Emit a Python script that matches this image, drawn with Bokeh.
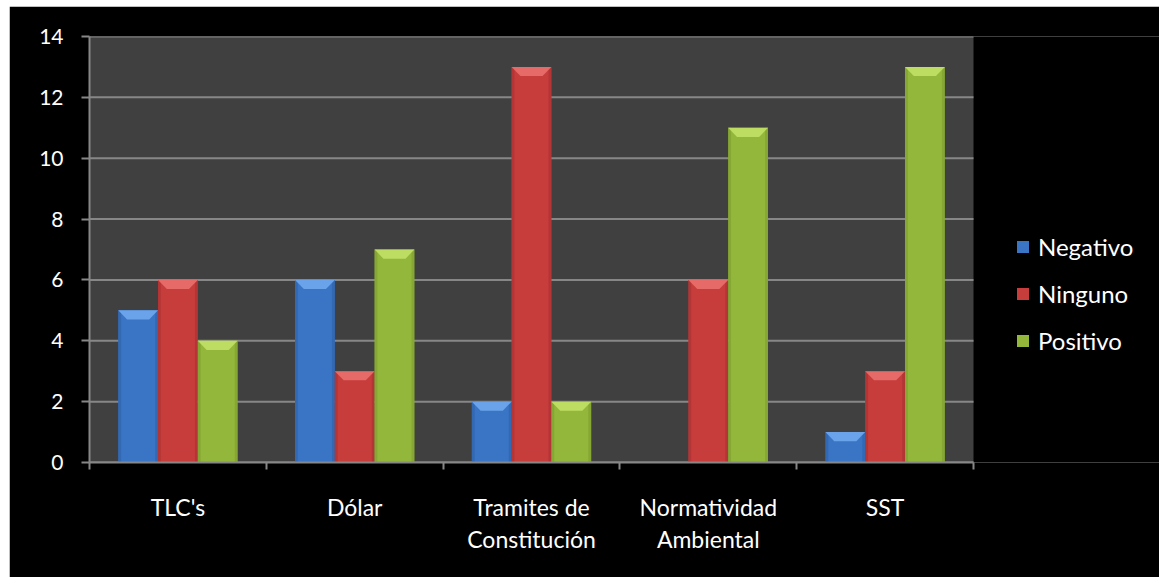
from bokeh.plotting import figure
from bokeh.models import Range1d, FixedTicker, Legend, LegendItem, BoxAnnotation
from bokeh.embed import file_html
from bokeh.resources import INLINE

# Survey data: effect of each factor on companies
categories = ["TLC's", "Dólar", "Tramites de\nConstitución", "Normatividad\nAmbiental", "SST"]
negativo = [5, 6, 2, 0, 1]
ninguno = [6, 3, 13, 6, 3]
positivo = [4, 7, 2, 11, 13]
y_ticks = [0, 2, 4, 6, 8, 10, 12, 14]

series = [
    ("Negativo", negativo, "#3a74c4", "#6aa3ea", "#2f62a8"),
    ("Ninguno", ninguno, "#c63d3c", "#e56a68", "#a83130"),
    ("Positivo", positivo, "#93b73a", "#bcdc62", "#7d9d2e"),
]

FONT = "Lato"
GRID = "#878787"
bar_w = 0.225
bevel_h = 0.30      # height of the bevelled cap, in value units
bevel_in = 0.05     # horizontal inset of the bevel, in category units

# The frame runs to the right edge; the grey plot area covers the categories
# only, and the legend sits in the remaining black strip.
FIG_W, FIG_H = 1150, 571
LEFT, TOP, BOTTOM = 80, 30, 115
AREA_W = 884                       # pixel width of the category area
n = len(categories)
frame_w = FIG_W - LEFT
x_end = n * frame_w / AREA_W

p = figure(width=FIG_W, height=FIG_H, x_range=Range1d(0, x_end), y_range=Range1d(0, 14),
           output_backend="svg", toolbar_location=None,
           background_fill_color="black", border_fill_color="black",
           outline_line_color=None,
           min_border_left=LEFT, min_border_top=TOP, min_border_right=0, min_border_bottom=BOTTOM,
           margin=(6, 0, 0, 9))

p.add_layout(BoxAnnotation(left=0, right=n, bottom=0, top=14, fill_color="#404040",
                           fill_alpha=1, line_color=None, level="underlay"))
p.xgrid.grid_line_color = None
p.ygrid.grid_line_color = None
p.segment(x0=[0] * len(y_ticks), x1=[n] * len(y_ticks), y0=y_ticks, y1=y_ticks,
          line_color=GRID, line_width=2)

legend_items = []
for k, (name, vals, main, light, dark) in enumerate(series):
    offset = (k - 1) * bar_w
    xs = [i + 0.5 + offset for i in range(n)]
    r = p.vbar(x=xs, top=vals, bottom=0, width=bar_w, fill_color=main, line_color=None)
    legend_items.append(LegendItem(label=name, renderers=[r]))
    # darker side edges
    p.vbar(x=[x - bar_w / 2 + 0.008 for x in xs], top=vals, bottom=0, width=0.016,
           fill_color=dark, fill_alpha=0.6, line_color=None)
    p.vbar(x=[x + bar_w / 2 - 0.008 for x in xs], top=vals, bottom=0, width=0.016,
           fill_color=dark, fill_alpha=0.6, line_color=None)
    # bevelled top cap
    cap_x, cap_y = [], []
    for x, v in zip(xs, vals):
        if v <= 0:
            continue
        xl, xr = x - bar_w / 2, x + bar_w / 2
        cap_x.append([xl, xr, xr - bevel_in, xl + bevel_in])
        cap_y.append([v, v, v - bevel_h, v - bevel_h])
    p.patches(cap_x, cap_y, fill_color=light, line_color=None)

xa = p.xaxis[0]
xa.bounds = (0, n)
xa.ticker = FixedTicker(ticks=[i + 0.5 for i in range(n)], minor_ticks=list(range(n + 1)))
xa.major_label_overrides = {i + 0.5: c for i, c in enumerate(categories)}
xa.major_tick_line_color = None
xa.minor_tick_line_color = GRID
xa.minor_tick_line_width = 2
xa.minor_tick_in = 0
xa.minor_tick_out = 7
xa.axis_line_color = GRID
xa.axis_line_width = 2
xa.major_label_text_color = "white"
xa.major_label_text_font = FONT
xa.major_label_text_font_size = "23px"
xa.major_label_text_line_height = 1.15
xa.major_label_standoff = 23

ya = p.yaxis[0]
ya.ticker = FixedTicker(ticks=y_ticks, minor_ticks=[])
ya.major_tick_line_color = GRID
ya.major_tick_line_width = 2
ya.major_tick_in = 0
ya.major_tick_out = 8
ya.axis_line_color = GRID
ya.axis_line_width = 2
ya.major_label_text_color = "white"
ya.major_label_text_font = FONT
ya.major_label_text_font_size = "21px"
ya.major_label_standoff = 18

legend = Legend(items=legend_items, location=(AREA_W + 42, 107), orientation="vertical",
                background_fill_alpha=0, border_line_color=None,
                label_text_color="white", label_text_font=FONT, label_text_font_size="24px",
                glyph_width=15, glyph_height=15, spacing=18, padding=0, margin=0,
                label_standoff=8)
p.add_layout(legend, "center")

open("out.html", "w").write(file_html(p, INLINE))
